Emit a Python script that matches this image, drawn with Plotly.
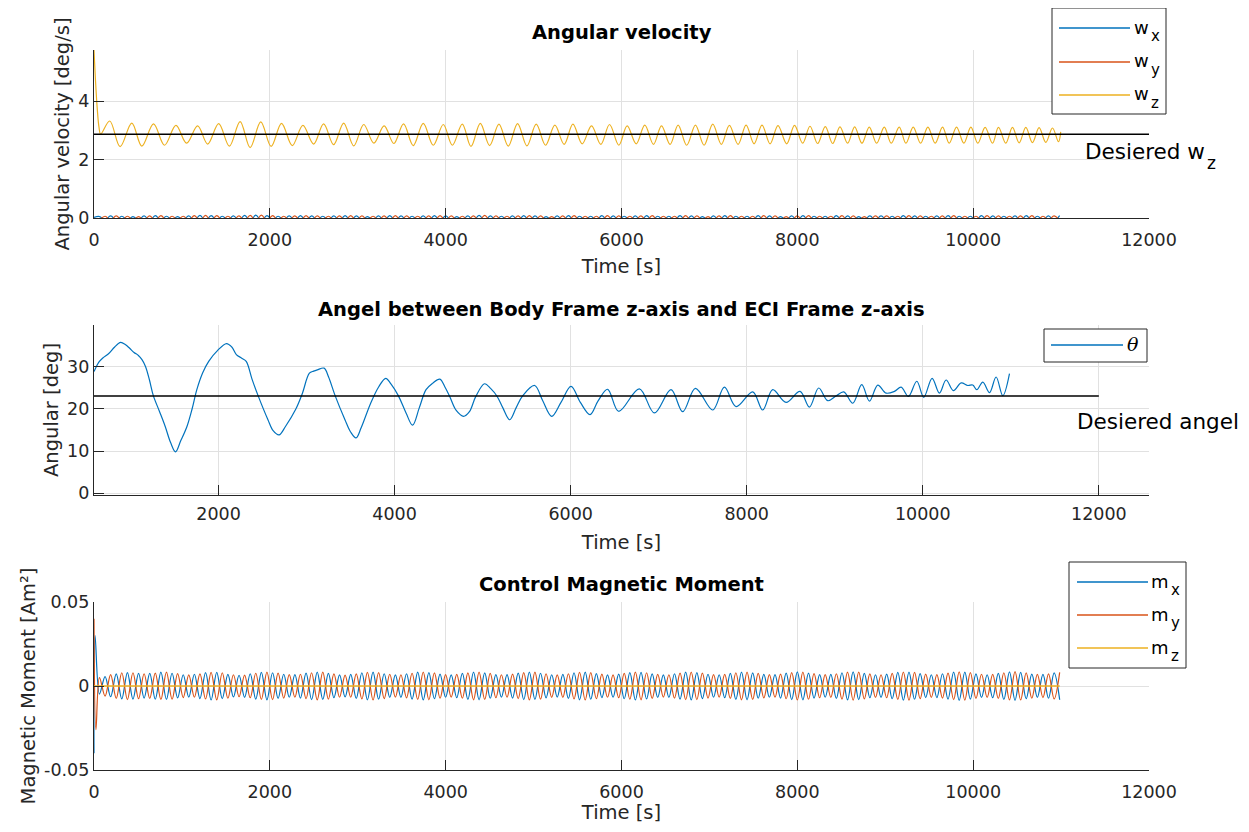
import plotly.graph_objects as go

# ---------------- data ----------------
# Panel 1: angular velocity [deg/s]
wz_t = [0, 19, 38, 57, 76, 179, 297, 430, 544, 677, 802, 932, 1053, 1179, 1293,
        1418, 1540, 1662, 1776, 1897, 2015, 2133, 2255, 2376, 2498,
        2612, 2726, 2840, 2954, 3068, 3183, 3300, 3411, 3521, 3631,
        3745, 3859, 3973, 4076, 4189, 4288, 4394, 4500, 4606, 4712,
        4818, 4924, 5030, 5136, 5242, 5348, 5447, 5553, 5659, 5765,
        5864, 5970, 6064, 6167, 6265, 6364, 6455, 6553, 6644, 6742,
        6841, 6939, 7038, 7136, 7227, 7326, 7417, 7508, 7598, 7690,
        7780, 7879, 7968, 8061, 8144, 8231, 8318, 8402, 8485, 8572,
        8652, 8735, 8818, 8902, 8989, 9068, 9159, 9235, 9318, 9402,
        9485, 9568, 9652, 9727, 9811, 9894, 9974, 10053, 10136, 10220,
        10288, 10371, 10447, 10523, 10599, 10674, 10750, 10826, 10902, 10970,
        10996]
wz_v = [5.75, 4.6, 3.7, 3.1, 2.87, 3.32, 2.44, 3.25, 2.46, 3.22, 2.49, 3.17, 2.56, 3.15, 2.53,
        3.23, 2.46, 3.30, 2.41, 3.29, 2.45, 3.24, 2.48, 3.17, 2.53,
        3.22, 2.51, 3.25, 2.47, 3.20, 2.56, 3.15, 2.55, 3.22, 2.48,
        3.24, 2.49, 3.20, 2.49, 3.21, 2.45, 3.24, 2.48, 3.21, 2.46,
        3.23, 2.47, 3.21, 2.49, 3.18, 2.52, 3.21, 2.54, 3.15, 2.52,
        3.20, 2.49, 3.15, 2.54, 3.18, 2.52, 3.15, 2.52, 3.18, 2.49,
        3.18, 2.49, 3.21, 2.52, 3.17, 2.52, 3.18, 2.54, 3.18, 2.54,
        3.16, 2.54, 3.17, 2.56, 3.14, 2.55, 3.13, 2.55, 3.12, 2.56,
        3.12, 2.56, 3.11, 2.56, 3.11, 2.56, 3.11, 2.56, 3.11, 2.56,
        3.11, 2.56, 3.11, 2.56, 3.11, 2.56, 3.11, 2.56, 3.10, 2.56,
        3.10, 2.56, 3.10, 2.57, 3.10, 2.58, 3.09, 2.59, 3.08, 2.61,
        2.95]

# extremum times of the spin-rate oscillations (w_x, w_y, m_x, m_y)
t_spin = [62, 126, 189, 253, 316, 380, 443, 507, 570, 634,
          697, 761, 824, 888, 951, 1015, 1078, 1142, 1205, 1269,
          1332, 1396, 1459, 1523, 1586, 1650, 1713, 1777, 1840, 1904,
          1967, 2031, 2094, 2158, 2221, 2285, 2348, 2412, 2475, 2539,
          2602, 2666, 2729, 2793, 2856, 2920, 2983, 3047, 3110, 3174,
          3237, 3301, 3364, 3428, 3491, 3555, 3618, 3682, 3745, 3809,
          3872, 3936, 3999, 4063, 4126, 4190, 4253, 4317, 4380, 4444,
          4507, 4571, 4634, 4698, 4761, 4825, 4888, 4952, 5015, 5079,
          5142, 5206, 5269, 5333, 5396, 5460, 5523, 5587, 5650, 5714,
          5777, 5841, 5904, 5968, 6031, 6095, 6158, 6222, 6285, 6349,
          6412, 6476, 6539, 6603, 6666, 6730, 6793, 6857, 6920, 6984,
          7047, 7111, 7174, 7238, 7301, 7365, 7428, 7492, 7555, 7619,
          7682, 7746, 7809, 7873, 7936, 8000, 8063, 8127, 8190, 8254,
          8317, 8381, 8444, 8508, 8571, 8635, 8698, 8762, 8825, 8889,
          8952, 9016, 9079, 9143, 9206, 9270, 9333, 9397, 9460, 9524,
          9587, 9651, 9714, 9778, 9841, 9905, 9968, 10032, 10095, 10159,
          10222, 10286, 10349, 10413, 10476, 10540, 10603, 10667, 10730, 10794,
          10857, 10921, 10984]

w_start_t = [0]
wx_start = [0.02]
wy_start = [-0.02]
wx_v = [.05, -.06, .07, -.07, .06, -.06, .05, -.06, .07, -.08,
        .08, -.07, .06, -.05, .05, -.06, .07, -.08, .09, -.09,
        .08, -.07, .06, -.06, .07, -.08, .09, -.10, .10, -.09,
        .08, -.07, .06, -.06, .07, -.08, .08, -.08, .07, -.06,
        .06, -.06, .07, -.08, .08, -.08, .07, -.06, .05, -.06,
        .07, -.08, .08, -.08, .07, -.06, .06, -.06, .07, -.08,
        .08, -.08, .07, -.06, .05, -.06, .07, -.08, .09, -.08,
        .07, -.06, .06, -.06, .07, -.08, .08, -.08, .07, -.06,
        .05, -.06, .07, -.08, .08, -.07, .06, -.06, .06, -.07,
        .08, -.08, .07, -.06, .06, -.06, .07, -.08, .08, -.07,
        .06, -.06, .06, -.07, .08, -.08, .07, -.06, .05, -.06,
        .07, -.08, .08, -.07, .06, -.06, .06, -.07, .08, -.08,
        .07, -.06, .05, -.06, .07, -.08, .08, -.07, .06, -.06,
        .06, -.07, .08, -.08, .07, -.06, .05, -.06, .07, -.07,
        .07, -.06, .06, -.07, .08, -.08, .07, -.06, .06, -.06,
        .07, -.08, .08, -.07, .06, -.05, .06, -.07, .08, -.08,
        .07, -.06, .06, -.06, .07, -.08, .08, -.07, .06, -.06,
        .07, -.08, .08]
wy_v = [-.04, .06, -.07, .07, -.07, .06, -.06, .05, -.06, .07,
        -.08, .08, -.07, .06, -.05, .06, -.07, .08, -.09, .09,
        -.09, .08, -.07, .06, -.06, .07, -.08, .09, -.10, .10,
        -.09, .08, -.07, .06, -.06, .07, -.08, .08, -.08, .07,
        -.06, .06, -.06, .07, -.08, .08, -.08, .07, -.06, .06,
        -.06, .07, -.08, .08, -.08, .07, -.06, .06, -.06, .07,
        -.08, .08, -.08, .07, -.06, .06, -.06, .07, -.08, .09,
        -.08, .07, -.06, .06, -.06, .07, -.08, .08, -.08, .07,
        -.06, .05, -.06, .07, -.08, .08, -.07, .06, -.06, .06,
        -.07, .08, -.08, .07, -.06, .06, -.06, .07, -.08, .08,
        -.07, .06, -.06, .06, -.07, .08, -.08, .07, -.06, .05,
        -.06, .07, -.08, .08, -.07, .06, -.06, .06, -.07, .08,
        -.08, .07, -.06, .05, -.06, .07, -.08, .08, -.07, .06,
        -.06, .06, -.07, .08, -.08, .07, -.06, .05, -.06, .07,
        -.07, .07, -.06, .06, -.07, .08, -.08, .07, -.06, .06,
        -.06, .07, -.08, .08, -.07, .06, -.05, .06, -.07, .08,
        -.08, .07, -.06, .06, -.06, .07, -.08, .08, -.07, .06,
        -.06, .07, -.08]

wz_desired = 2.865
desired_t = [0, 12000]

# Panel 2: angle between body z-axis and ECI z-axis [deg]
th_t = [586, 640, 685, 750, 820, 887, 940, 990, 1040, 1089, 1130, 1170, 1215, 1259,
        1330, 1394, 1455, 1511, 1570, 1641, 1700, 1753, 1820, 1888, 1990, 2090,
        2150, 2202, 2260, 2314, 2380, 2449, 2561, 2620, 2687, 2760, 2875, 2950,
        3032, 3080, 3122, 3199, 3250, 3324, 3436, 3500, 3562, 3620, 3728, 3820,
        3899, 3960, 4042, 4130, 4204, 4280, 4357, 4430, 4514, 4570, 4626, 4700,
        4783, 4850, 4920, 5021, 5090, 5165, 5230, 5308, 5380, 5456, 5591, 5680,
        5784, 5890, 6004, 6110, 6220, 6310, 6420, 6545, 6780, 6951, 7140, 7273,
        7417, 7614, 7746, 7879, 8068, 8182, 8295, 8447, 8606, 8712, 8818, 8920,
        9014, 9102, 9205, 9307, 9394, 9489, 9583, 9678, 9754, 9837, 9932, 10011,
        10106, 10189, 10265, 10348, 10436, 10511, 10568, 10614, 10682, 10758,
        10833, 10909, 10985]
th_v = [28.8, 31.0, 32.0, 33.0, 34.6, 35.7, 35.2, 34.3, 33.3, 32.6, 31.6, 30.0, 26.8, 23.1,
        19.3, 15.8, 12.0, 9.8, 12.4, 15.8, 20.0, 24.5, 28.5, 31.2, 33.8, 35.4,
        34.6, 32.8, 32.0, 31.2, 27.0, 23.1, 17.4, 14.8, 13.8, 15.8, 19.8, 23.5,
        28.4, 28.9, 29.2, 29.6, 27.5, 23.1, 17.4, 14.5, 13.1, 15.5, 21.3, 25.2,
        27.2, 25.8, 23.1, 19.0, 16.1, 20.2, 24.5, 26.0, 27.0, 25.2, 22.9, 19.6,
        18.2, 19.3, 22.8, 25.9, 24.8, 22.9, 20.2, 17.4, 20.2, 23.1, 25.5, 22.0,
        18.2, 21.5, 25.3, 21.5, 18.6, 21.8, 24.6, 19.4, 24.7, 19.0, 24.5, 19.3,
        24.8, 19.7, 25.1, 20.5, 24.0, 19.7, 24.5, 21.5, 24.1, 20.4, 24.9, 21.9,
        23.0, 24.0, 21.3, 25.7, 21.8, 25.6, 23.7, 24.1, 25.1, 22.9, 26.5, 22.7,
        27.2, 23.7, 26.8, 24.3, 26.1, 25.5, 25.6, 24.5, 26.3, 23.8,
        27.5, 23.1, 28.3]
th_desired = 23.0

# Panel 3: control magnetic moment [Am^2]
mx_start_t = [0, 12]
mx_start = [-0.040, 0.030]
my_start_t = [0, 22]
my_start = [0.040, -0.026]
mx_v = [-.0048, .0056, -.0064, .0072, -.0077, .0080, -.0078, .0075, -.0072, .0075,
        -.0079, .0082, -.0080, .0076, -.0071, .0067, -.0066, .0070, -.0075, .0080,
        -.0083, .0081, -.0075, .0069, -.0065, .0064, -.0068, .0073, -.0078, .0081,
        -.0082, .0079, -.0074, .0070, -.0067, .0068, -.0072, .0077, -.0081, .0083,
        -.0080, .0075, -.0070, .0066, -.0065, .0069, -.0074, .0079, -.0082, .0082,
        -.0078, .0073, -.0068, .0066, -.0068, .0073, -.0078, .0082, -.0083, .0080,
        -.0076, .0071, -.0067, .0066, -.0070, .0075, -.0080, .0083, -.0082, .0078,
        -.0073, .0068, -.0066, .0068, -.0072, .0077, -.0081, .0083, -.0080, .0076,
        -.0071, .0067, -.0066, .0069, -.0074, .0079, -.0082, .0082, -.0079, .0074,
        -.0069, .0066, -.0067, .0071, -.0076, .0080, -.0083, .0081, -.0077, .0072,
        -.0068, .0066, -.0068, .0073, -.0078, .0082, -.0083, .0080, -.0075, .0070,
        -.0067, .0067, -.0070, .0075, -.0080, .0083, -.0082, .0078, -.0073, .0069,
        -.0067, .0068, -.0072, .0077, -.0081, .0084, -.0082, .0077, -.0072, .0068,
        -.0067, .0069, -.0074, .0079, -.0083, .0084, -.0081, .0075, -.0070, .0067,
        -.0068, .0071, -.0076, .0081, -.0084, .0083, -.0079, .0074, -.0069, .0067,
        -.0069, .0073, -.0078, .0082, -.0085, .0082, -.0078, .0072, -.0068, .0067,
        -.0070, .0075, -.0080, .0084, -.0085, .0081, -.0076, .0071, -.0068, .0069,
        -.0073, .0078, -.0082]
my_v = [.0050, -.0060, .0068, -.0074, .0079, -.0081, .0079, -.0076, .0073, -.0074,
        .0077, -.0080, .0082, -.0079, .0074, -.0069, .0066, -.0067, .0072, -.0077,
        .0081, -.0083, .0079, -.0073, .0067, -.0064, .0065, -.0070, .0076, -.0080,
        .0083, -.0081, .0077, -.0072, .0068, -.0067, .0070, -.0075, .0079, -.0083,
        .0082, -.0078, .0072, -.0067, .0065, -.0067, .0072, -.0077, .0081, -.0083,
        .0080, -.0075, .0070, -.0066, .0067, -.0071, .0076, -.0080, .0083, -.0082,
        .0078, -.0073, .0068, -.0066, .0069, -.0073, .0078, -.0082, .0083, -.0080,
        .0075, -.0070, .0067, -.0067, .0071, -.0075, .0080, -.0083, .0082, -.0078,
        .0073, -.0068, .0066, -.0068, .0073, -.0077, .0081, -.0083, .0080, -.0076,
        .0071, -.0067, .0066, -.0070, .0075, -.0079, .0082, -.0082, .0079, -.0074,
        .0069, -.0066, .0067, -.0072, .0077, -.0081, .0083, -.0081, .0077, -.0072,
        .0068, -.0066, .0069, -.0074, .0079, -.0082, .0083, -.0080, .0075, -.0071,
        .0068, -.0067, .0071, -.0076, .0080, -.0083, .0083, -.0079, .0074, -.0070,
        .0068, -.0068, .0073, -.0078, .0082, -.0084, .0082, -.0077, .0072, -.0068,
        .0067, -.0070, .0075, -.0080, .0083, -.0084, .0081, -.0076, .0071, -.0068,
        .0068, -.0072, .0077, -.0081, .0084, -.0084, .0080, -.0074, .0070, -.0068,
        .0069, -.0074, .0079, -.0083, .0085, -.0083, .0078, -.0073, .0069, -.0069,
        .0072, -.0077, .0081]
mz_t = [0, 10984]
mz_v = [0.0, 0.0]

# tick labels
x_ticks = [0, 2000, 4000, 6000, 8000, 10000, 12000]
y1_ticks = [0, 2, 4]
y2_ticks = [0, 10, 20, 30]
y3_ticks = [-0.05, 0, 0.05]
y3_ticklabels = ['-0.05', '0', '0.05']

legend1_labels = [('w', 'x'), ('w', 'y'), ('w', 'z')]
legend2_labels = [('<i>θ</i>', '')]
legend3_labels = [('m', 'x'), ('m', 'y'), ('m', 'z')]

# ---------------- styling ----------------
PAGE_OFF = 8               # default page margin around the plot div
W, H = 1249 - 2 * PAGE_OFF, 832 - 2 * PAGE_OFF
BLUE, ORANGE, YELLOW = '#0072BD', '#D95319', '#EDB120'
AX = '#262626'
GRID = '#e1e1e1'
FONT = 'DejaVu Sans'
LW = 1.2


def px(x):
    return (x - PAGE_OFF) / W


def py(y):
    return 1 - (y - PAGE_OFF) / H


fig = go.Figure()


def line(x, y, color, xa, ya, width=LW, shape='spline', name=None):
    fig.add_trace(go.Scatter(x=x, y=y, mode='lines', name=name,
                             line=dict(color=color, width=width, shape=shape, smoothing=1),
                             xaxis=xa, yaxis=ya, showlegend=False, hoverinfo='skip'))


# Panel 1
line(w_start_t + t_spin, wx_start + wx_v, BLUE, 'x', 'y', name='w_x')
line(w_start_t + t_spin, wy_start + wy_v, ORANGE, 'x', 'y', name='w_y')
line(wz_t, wz_v, YELLOW, 'x', 'y', name='w_z')
line(desired_t, [wz_desired, wz_desired], 'black', 'x', 'y', width=1.6, shape='linear')

# Panel 2
line(th_t, th_v, BLUE, 'x2', 'y2', name='theta')
line(desired_t, [th_desired, th_desired], 'black', 'x2', 'y2', width=1.6, shape='linear')

# Panel 3
line(mx_start_t + t_spin, mx_start + mx_v, BLUE, 'x3', 'y3', name='m_x')
line(my_start_t + t_spin, my_start + my_v, ORANGE, 'x3', 'y3', name='m_y')
line(mz_t, mz_v, YELLOW, 'x3', 'y3', width=1.6, shape='linear', name='m_z')

tickfont = dict(family=FONT, size=17.5, color=AX)
titlefont = dict(family=FONT, size=19.5, color=AX)
common = dict(showline=True, linecolor=AX, linewidth=1.2, mirror=False,
              ticks='inside', ticklen=10, tickwidth=1.2, tickcolor=AX,
              showgrid=True, gridcolor=GRID, gridwidth=1, zeroline=False,
              tickfont=tickfont, automargin=False)

xdom = [px(94), px(1149)]
d1 = [py(218), py(50)]
d2 = [py(495), py(325)]
d3 = [py(770), py(602)]

xt = dict(tickvals=x_ticks, ticktext=[str(v) for v in x_ticks])

fig.update_layout(
    width=W, height=H, margin=dict(l=0, r=0, t=0, b=0),
    paper_bgcolor='white', plot_bgcolor='white', template='none',
    font=dict(family=FONT, color=AX),
    xaxis=dict(domain=xdom, anchor='y', range=[0, 12000], **xt, **common, ticklabelstandoff=6,
               title=dict(text='Time [s]', font=titlefont, standoff=10)),
    yaxis=dict(domain=d1, anchor='x', range=[0, 5.75], tickvals=y1_ticks, **common,
               title=dict(text='Angular velocity [deg/s]', font=titlefont, standoff=3)),
    xaxis2=dict(domain=xdom, anchor='y2', range=[585, 12570], **xt, **common, ticklabelstandoff=3,
                title=dict(text='Time [s]', font=titlefont, standoff=12)),
    yaxis2=dict(domain=d2, anchor='x2', range=[-0.4, 39.8], tickvals=y2_ticks, **common,
                title=dict(text='Angular [deg]', font=titlefont, standoff=3)),
    xaxis3=dict(domain=xdom, anchor='y3', range=[0, 12000], **xt, **common, ticklabelstandoff=6,
                title=dict(text='Time [s]', font=titlefont, standoff=10)),
    yaxis3=dict(domain=d3, anchor='x3', range=[-0.05, 0.05], tickvals=y3_ticks,
                ticktext=y3_ticklabels, **common,
                title=dict(text='Magnetic Moment [Am²]', font=titlefont, standoff=3)),
)

annotations = []
titles = [('<b>Angular velocity</b>', 32),
          ('<b>Angel between Body Frame z-axis and ECI Frame z-axis</b>', 309),
          ('<b>Control Magnetic Moment</b>', 584)]
for txt, yy in titles:
    annotations.append(dict(text=txt, x=px(621.5), y=py(yy), xref='paper', yref='paper',
                            xanchor='center', yanchor='middle', showarrow=False,
                            font=dict(family=FONT, size=19.5, color='black')))


def label_with_sub(main, sub, x_right, y_main, y_sub, size, sub_size, family=FONT):
    """main text right-aligned at x_right, subscript left-aligned just after it"""
    annotations.append(dict(text=main, x=px(x_right), y=py(y_main), xref='paper', yref='paper',
                            xanchor='right', yanchor='middle', showarrow=False, borderpad=0,
                            font=dict(family=family, size=size, color='black')))
    if sub:
        annotations.append(dict(text=sub, x=px(x_right), y=py(y_sub), xref='paper', yref='paper',
                                xanchor='left', yanchor='middle', showarrow=False, borderpad=0,
                                font=dict(family=family, size=sub_size, color='black')))


label_with_sub('Desiered w', 'z', 1206, 151, 163, 21.5, 17)
annotations.append(dict(text='Desiered angel', x=px(1075), y=py(421), xref='paper', yref='paper',
                        xanchor='left', yanchor='middle', showarrow=False,
                        font=dict(family=FONT, size=21.5, color='black')))

shapes = []


def legend(box, rows, line_x, text_right, labels, colors, family=FONT, size=18, sub_size=15):
    x0, y0, x1, y1 = box
    shapes.append(dict(type='rect', xref='paper', yref='paper', x0=px(x0), x1=px(x1),
                       y0=py(y1), y1=py(y0), fillcolor='white', line=dict(color=AX, width=1),
                       layer='above'))
    for r, (main, sub), col in zip(rows, labels, colors):
        shapes.append(dict(type='line', xref='paper', yref='paper', x0=px(line_x[0]), x1=px(line_x[1]),
                           y0=py(r), y1=py(r), line=dict(color=col, width=1.4), layer='above'))
        label_with_sub(main, sub, text_right, r - 1, r + 8, size, sub_size, family)


legend((1052, 8, 1166, 114), [28, 62, 95], (1059, 1130), 1150, legend1_labels, [BLUE, ORANGE, YELLOW])
legend((1044, 329, 1147, 362), [345], (1051, 1123), 1140, legend2_labels, [BLUE],
       family='DejaVu Serif', size=19)
legend((1069, 562, 1186, 668), [582, 615, 648], (1077, 1148), 1170, legend3_labels, [BLUE, ORANGE, YELLOW])

fig.update_layout(annotations=annotations, shapes=shapes)

fig.write_html('out.html')
